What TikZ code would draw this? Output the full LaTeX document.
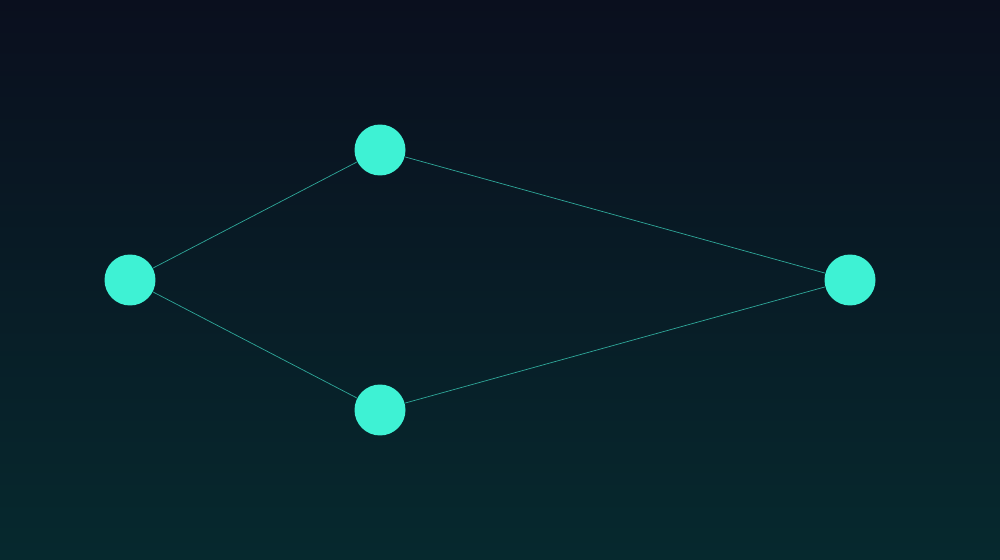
\documentclass[tikz,border=0pt]{standalone}
\begin{document}
\begin{tikzpicture}[x=0.02cm,y=-0.02cm,
  dot/.style={circle,fill=nodec,minimum size=1.02cm,inner sep=0pt,draw=none},
  link/.style={draw=linec,line width=0.4pt}]
\definecolor{bgtop}{HTML}{0A0F1E}
\definecolor{bgbot}{HTML}{06292E}
\definecolor{nodec}{HTML}{3EF2D4}
\definecolor{linec}{HTML}{2FA89A}
\shade[top color=bgtop,bottom color=bgbot] (0,0) rectangle (1000,560);
\useasboundingbox (0,0) rectangle (1000,560);
\node[dot] (a) at (130,280) {};
\node[dot] (b) at (380,150) {};
\node[dot] (c) at (380,410) {};
\node[dot] (d) at (850,280) {};
\draw[link] (a) -- (b);
\draw[link] (a) -- (c);
\draw[link] (b) -- (d);
\draw[link] (c) -- (d);
\end{tikzpicture}
\end{document}
